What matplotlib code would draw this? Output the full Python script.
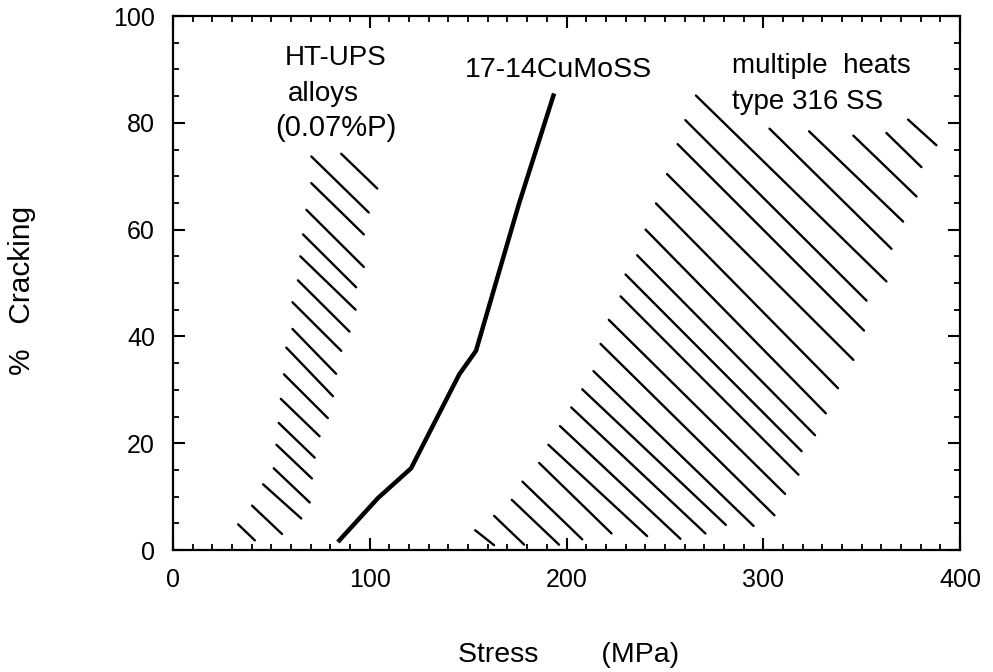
import matplotlib
matplotlib.use("Agg")
import matplotlib.pyplot as plt
from matplotlib.ticker import MultipleLocator

plt.rcParams['font.family'] = ['Liberation Sans', 'DejaVu Sans']

# ---- data ----
# 17-14CuMoSS curve
cu_stress = [83.8, 104.1, 121.0, 145.5, 154.0, 175.9, 193.7]
cu_crack = [1.5, 9.7, 15.3, 32.9, 37.3, 64.9, 85.5]

# HT-UPS alloys hatch band (segment start / end)
ht_x0 = [85.5, 70.3, 70.3, 67.8, 66.1, 64.7, 63.5, 60.7, 60.7, 57.6, 56.4, 54.8, 53.7, 52.6, 51.2, 45.8, 40.2, 33.1]
ht_y0 = [74.2, 73.7, 68.7, 63.7, 59.1, 55.0, 50.5, 46.4, 41.4, 37.9, 32.9, 28.3, 23.8, 19.7, 15.3, 12.3, 8.3, 4.8]
ht_x1 = [103.8, 99.5, 97.0, 97.0, 93.1, 92.8, 89.7, 85.5, 82.9, 81.3, 78.7, 74.5, 72.0, 70.6, 69.5, 65.2, 55.4, 41.6]
ht_y1 = [67.7, 63.2, 59.1, 53.0, 49.2, 45.0, 40.9, 37.3, 33.0, 28.8, 24.7, 21.3, 17.3, 13.4, 8.9, 5.9, 3.0, 1.8]

# type 316 SS hatch band (segment start / end)
ss_x0 = [153.6, 163.2, 172.2, 177.6, 186.1, 190.8, 196.7, 202.4, 208.0, 213.7, 217.3, 221.5, 227.5,
         230.0, 235.9, 240.2, 245.5, 251.1, 256.5, 260.4, 265.8, 303.2, 323.3, 345.8, 362.6, 373.6]
ss_y0 = [3.7, 6.4, 9.4, 12.8, 16.3, 19.7, 23.2, 26.7, 30.1, 33.5, 38.6, 43.1, 47.5,
         51.6, 55.2, 60.0, 64.9, 70.4, 76.0, 80.5, 85.1, 78.9, 78.4, 77.6, 78.1, 80.6]
ss_x1 = [163.2, 178.5, 196.2, 208.0, 222.9, 241.0, 257.9, 270.6, 281.0, 295.1, 305.7, 311.1, 317.9,
         319.5, 326.3, 331.8, 338.0, 345.8, 351.2, 352.5, 362.6, 365.2, 371.1, 377.9, 380.4, 388.0]
ss_y1 = [0.9, 1.0, 1.0, 2.0, 3.1, 2.6, 2.1, 3.1, 4.7, 4.5, 6.5, 10.5, 14.1,
         18.5, 21.5, 25.6, 30.3, 35.6, 41.1, 46.7, 50.3, 56.4, 61.5, 66.2, 71.7, 75.8]

x_ticks = [0, 100, 200, 300, 400]
y_ticks = [0, 20, 40, 60, 80, 100]

# ---- figure ----
fig = plt.figure(figsize=(9.93, 6.72), dpi=100)
ax = fig.add_axes([173/993, 1-550/672, (960-173)/993, (550-16)/672])

for x0, y0, x1, y1 in zip(ht_x0, ht_y0, ht_x1, ht_y1):
    ax.plot([x0, x1], [y0, y1], color='black', lw=1.7, solid_capstyle='round')
for x0, y0, x1, y1 in zip(ss_x0, ss_y0, ss_x1, ss_y1):
    ax.plot([x0, x1], [y0, y1], color='black', lw=1.7, solid_capstyle='round')

ax.plot(cu_stress, cu_crack, color='black', lw=3.2, solid_capstyle='butt')

ax.set_xlim(0, 400)
ax.set_ylim(0, 100)
ax.set_xticks(x_ticks)
ax.set_yticks(y_ticks)
ax.xaxis.set_minor_locator(MultipleLocator(10))
ax.yaxis.set_minor_locator(MultipleLocator(5))
ax.tick_params(which='both', direction='in', top=True, right=True, colors='black')
ax.tick_params(which='major', length=8.6, width=1.5, pad=13, labelsize=18)
ax.tick_params(which='minor', length=4.6, width=1.3)
for s in ax.spines.values():
    s.set_linewidth(1.6)

txt = dict(fontsize=20, color='black', ha='left', va='baseline')
ax.text(56.9, 90.8, 'HT-UPS', **txt)
ax.text(58.3, 84.0, 'alloys', **txt)
ax.text(52.2, 77.5, '(0.07%P)', fontsize=21, color='black', ha='left', va='baseline')
ax.text(148.4, 88.6, '17-14CuMoSS', fontsize=20.5, color='black', ha='left', va='baseline')
ax.text(283.9, 89.3, 'multiple  heats', **txt)
ax.text(283.9, 82.5, 'type 316 SS', **txt)

ax.set_xlabel('Stress        (MPa)', fontsize=20.5, va='center')
ax.xaxis.set_label_coords(0.502, -0.197)
ax.set_ylabel('%   Cracking', fontsize=21.5, va='center')
ax.yaxis.set_label_coords(-0.192, 0.487)

fig.savefig('out.png', dpi=100)
